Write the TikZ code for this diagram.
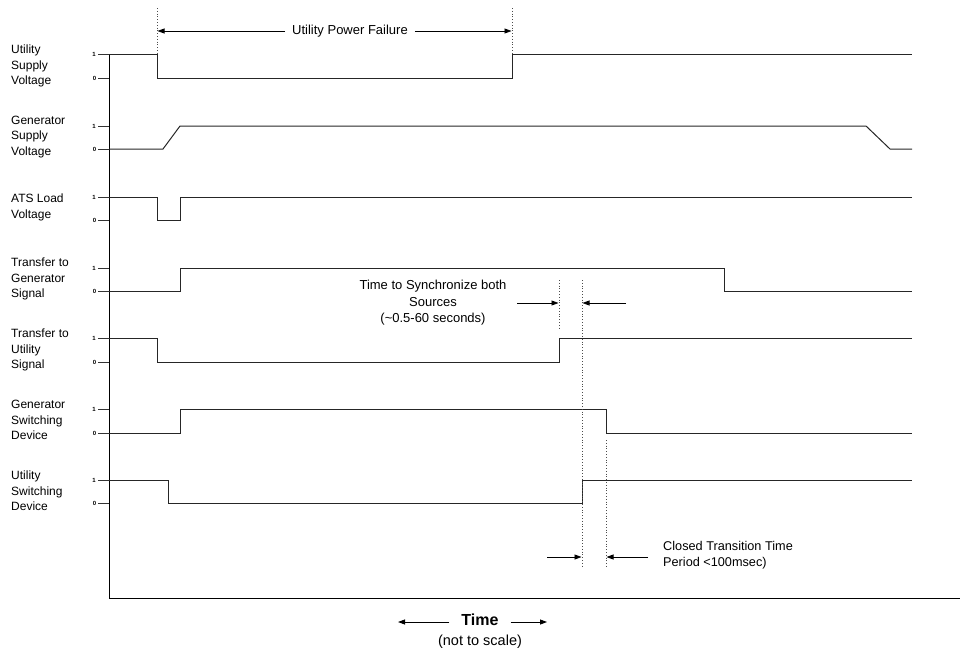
\documentclass[tikz,border=0pt]{standalone}
\usepackage{fontspec}
\setmainfont{Liberation Sans}
\usetikzlibrary{arrows.meta}
\begin{document}
\begin{tikzpicture}[x=1pt,y=-1pt,
  sig/.style={line width=1pt,black!85},
  axis/.style={line width=1pt,black},
  tick/.style={line width=1pt,black!80},
  dots/.style={line width=0.8pt,dotted,black!70},
  arr/.style={line width=0.8pt,-{Triangle[length=7pt,width=5pt]}},
  lbl/.style={anchor=west,align=left,inner sep=0pt,font=\fontsize{12}{15.5}\selectfont},
  tl/.style={inner sep=0pt,font=\fontsize{6}{6}\selectfont\bfseries}]
\useasboundingbox (0,0) rectangle (976,670);
% axes
\coordinate (ax0) at (109,54);
\coordinate (ax1) at (109,598);
\coordinate (ax2) at (960,598);
\draw[axis] (ax0) -- (ax1) -- (ax2);
% labels
\node[lbl] (l1) at (11,66) {Utility\\Supply\\Voltage};
\node[lbl] (l2) at (11,137) {Generator\\Supply\\Voltage};
\node[lbl] (l3) at (11,207.5) {ATS Load\\Voltage};
\node[lbl] (l4) at (11,279) {Transfer to\\Generator\\Signal};
\node[lbl] (l5) at (11,350) {Transfer to\\Utility\\Signal};
\node[lbl] (l6) at (11,420) {Generator\\Switching\\Device};
\node[lbl] (l7) at (11,491) {Utility\\Switching\\Device};
% ticks
\foreach \h/\l [count=\i] in {54/78,126/149,197/220,268/291,338/362,409/433,480/503}{
  \draw[tick] (98,\h) -- (109,\h);
  \draw[tick] (98,\l) -- (109,\l);
  \node[tl] (one\i) at (94,\h) {1};
  \node[tl] (zero\i) at (94.5,\l) {0};
}
% signals
\draw[sig] (109,54) -- (157,54) -- (157,78) -- (512,78) -- (512,54) -- (912,54);
\draw[sig] (109,149) -- (163,149) -- (180,126) -- (866,126) -- (890,149) -- (912,149);
\draw[sig] (109,197) -- (157,197) -- (157,220) -- (180,220) -- (180,197) -- (912,197);
\draw[sig] (109,291) -- (180,291) -- (180,268) -- (724,268) -- (724,291) -- (912,291);
\draw[sig] (109,338) -- (157,338) -- (157,362) -- (559,362) -- (559,338) -- (912,338);
\draw[sig] (109,433) -- (180,433) -- (180,409) -- (606,409) -- (606,433) -- (912,433);
\draw[sig] (109,480) -- (168,480) -- (168,503) -- (582,503) -- (582,480) -- (912,480);
% utility power failure
\coordinate (pf1t) at (157,8); \coordinate (pf1b) at (157,54);
\coordinate (pf2t) at (512,8); \coordinate (pf2b) at (512,54);
\draw[dots] (pf1t) -- (pf1b);
\draw[dots] (pf2t) -- (pf2b);
\coordinate (pfa) at (157.5,31); \coordinate (pfb) at (511.5,31);
\node[fill=white,inner xsep=7pt,inner ysep=2pt,font=\fontsize{13}{15}\selectfont] (pf) at (350,31) {Utility Power Failure};
\draw[arr] (pf.west) -- (pfa);
\draw[arr] (pf.east) -- (pfb);
% sync
\coordinate (s1t) at (559,280); \coordinate (s1b) at (559,330);
\coordinate (s2t) at (582,280); \coordinate (s2b) at (582,568);
\coordinate (s3t) at (606,440); \coordinate (s3b) at (606,568);
\draw[dots] (s1t) -- (s1b);
\draw[dots] (s2t) -- (s2b);
\draw[dots] (s3t) -- (s3b);
\node[align=center,inner sep=0pt,font=\fontsize{13}{16.5}\selectfont] (sync) at (433,303) {Time to Synchronize both\\Sources\\(\textasciitilde0.5-60 seconds)};
\coordinate (sa0) at (517,303); \coordinate (sa1) at (558.5,303);
\coordinate (sb0) at (626,303); \coordinate (sb1) at (582.5,303);
\draw[arr] (sa0) -- (sa1);
\draw[arr] (sb0) -- (sb1);
% closed transition
\coordinate (ca0) at (547,557); \coordinate (ca1) at (581.5,557);
\coordinate (cb0) at (648,557); \coordinate (cb1) at (606.5,557);
\draw[arr] (ca0) -- (ca1);
\draw[arr] (cb0) -- (cb1);
\node[lbl,font=\fontsize{12.7}{16}\selectfont] (ct) at (663,555) {Closed Transition Time\\Period <100msec)};
% time
\node[inner sep=0pt,font=\fontsize{16}{16}\selectfont\bfseries] (time) at (480,620) {Time};
\node[inner sep=0pt,font=\fontsize{14.5}{14.5}\selectfont] (nts) at (480,642) {(not to scale)};
\coordinate (ta) at (398,622); \coordinate (tb) at (547,622);
\draw[arr] ([xshift=-12pt]time.west|-ta) -- (ta);
\draw[arr] ([xshift=12pt]time.east|-tb) -- (tb);
\end{tikzpicture}
\end{document}
